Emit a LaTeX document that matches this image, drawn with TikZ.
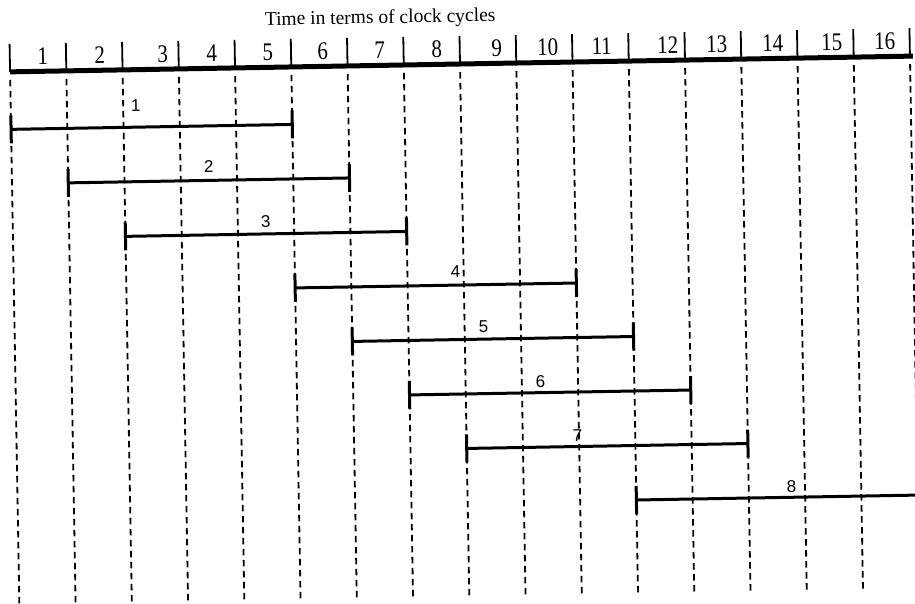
\documentclass[tikz,border=0pt]{standalone}
\usepackage{fontspec}
\usepackage{graphicx}
\setmainfont{Liberation Serif}
\newfontfamily\barfont{Liberation Sans}
\newcommand{\tallnum}[1]{\scalebox{1}[1.2]{#1}}
\begin{document}
\begin{tikzpicture}[x=1pt,y=-1pt,
  axisline/.style={line width=5pt},
  tickline/.style={line width=1.8pt},
  gridline/.style={line width=1.8pt, dash pattern=on 6.5pt off 4.5pt},
  barline/.style={line width=3pt},
  endtick/.style={line width=3pt},
  axnum/.style={font=\fontsize{21}{21}\selectfont, inner sep=0pt, anchor=base},
  barlab/.style={font=\barfont\fontsize{17}{17}\selectfont, inner sep=0pt, anchor=base},
  titletext/.style={font=\fontsize{19.5}{21}\selectfont, inner sep=0pt, anchor=base}]
\useasboundingbox (0,0) rectangle (915,603);
\begin{scope}[rotate around={1:(460,64)}, transform shape]
  % title
  \node[titletext] (title) at (381,22) {Time in terms of clock cycles};
  % boundaries, ticks and dashed grid
  \foreach \k in {0,...,16} {
    \coordinate (t\k) at ({10+56.25*\k},64);
    \coordinate (u\k) at ({10+56.25*\k},36);
    \coordinate (g\k) at ({10+56.25*\k},72);
    \coordinate (d\k) at ({10+56.25*\k},597);
    \draw[tickline] (u\k) -- (t\k);
    \draw[gridline] (g\k) -- (d\k);
  }
  % axis
  \coordinate (axend) at (913,64);
  \draw[axisline] (t0) -- (axend);
  % axis numbers
  \foreach \n/\u in {1/43,2/100,3/163,4/212,5/268,6/323,7/380,8/437,9/497,10/548,11/602,12/668,13/717,14/773,15/832,16/885} {
    \node[axnum] (n\n) at (\u,57) {\tallnum{\n}};
  }
  % bars
  \foreach \i/\s/\e/\v/\lu/\lv in {1/0/5/121.5/135/106, 2/1/6/176/207/168, 3/2/7/230.5/263/224, 4/5/10/285/452/277, 5/6/11/339.5/479/333, 6/7/12/394/535/388.5, 7/8/13/448.5/571/443} {
    \coordinate (bs\i) at ({10+56.25*\s},\v);
    \coordinate (be\i) at ({10+56.25*\e},\v);
    \coordinate (bsa\i) at ({10+56.25*\s},\v-14);
    \coordinate (bsb\i) at ({10+56.25*\s},\v+14);
    \coordinate (bea\i) at ({10+56.25*\e},\v-14);
    \coordinate (beb\i) at ({10+56.25*\e},\v+14);
    \draw[barline] (bs\i) -- (be\i);
    \draw[endtick] (bsa\i) -- (bsb\i);
    \draw[endtick] (bea\i) -- (beb\i);
    \node[barlab] (l\i) at (\lu,\lv) {\i};
  }
  % bar 8 runs off the right edge
  \coordinate (bs8) at ({10+56.25*11},503);
  \coordinate (be8) at (925,503);
  \coordinate (bsa8) at ({10+56.25*11},489);
  \coordinate (bsb8) at ({10+56.25*11},517);
  \draw[barline] (bs8) -- (be8);
  \draw[endtick] (bsa8) -- (bsb8);
  \node[barlab] (l8) at (784,498) {8};
\end{scope}
\end{tikzpicture}
\end{document}
